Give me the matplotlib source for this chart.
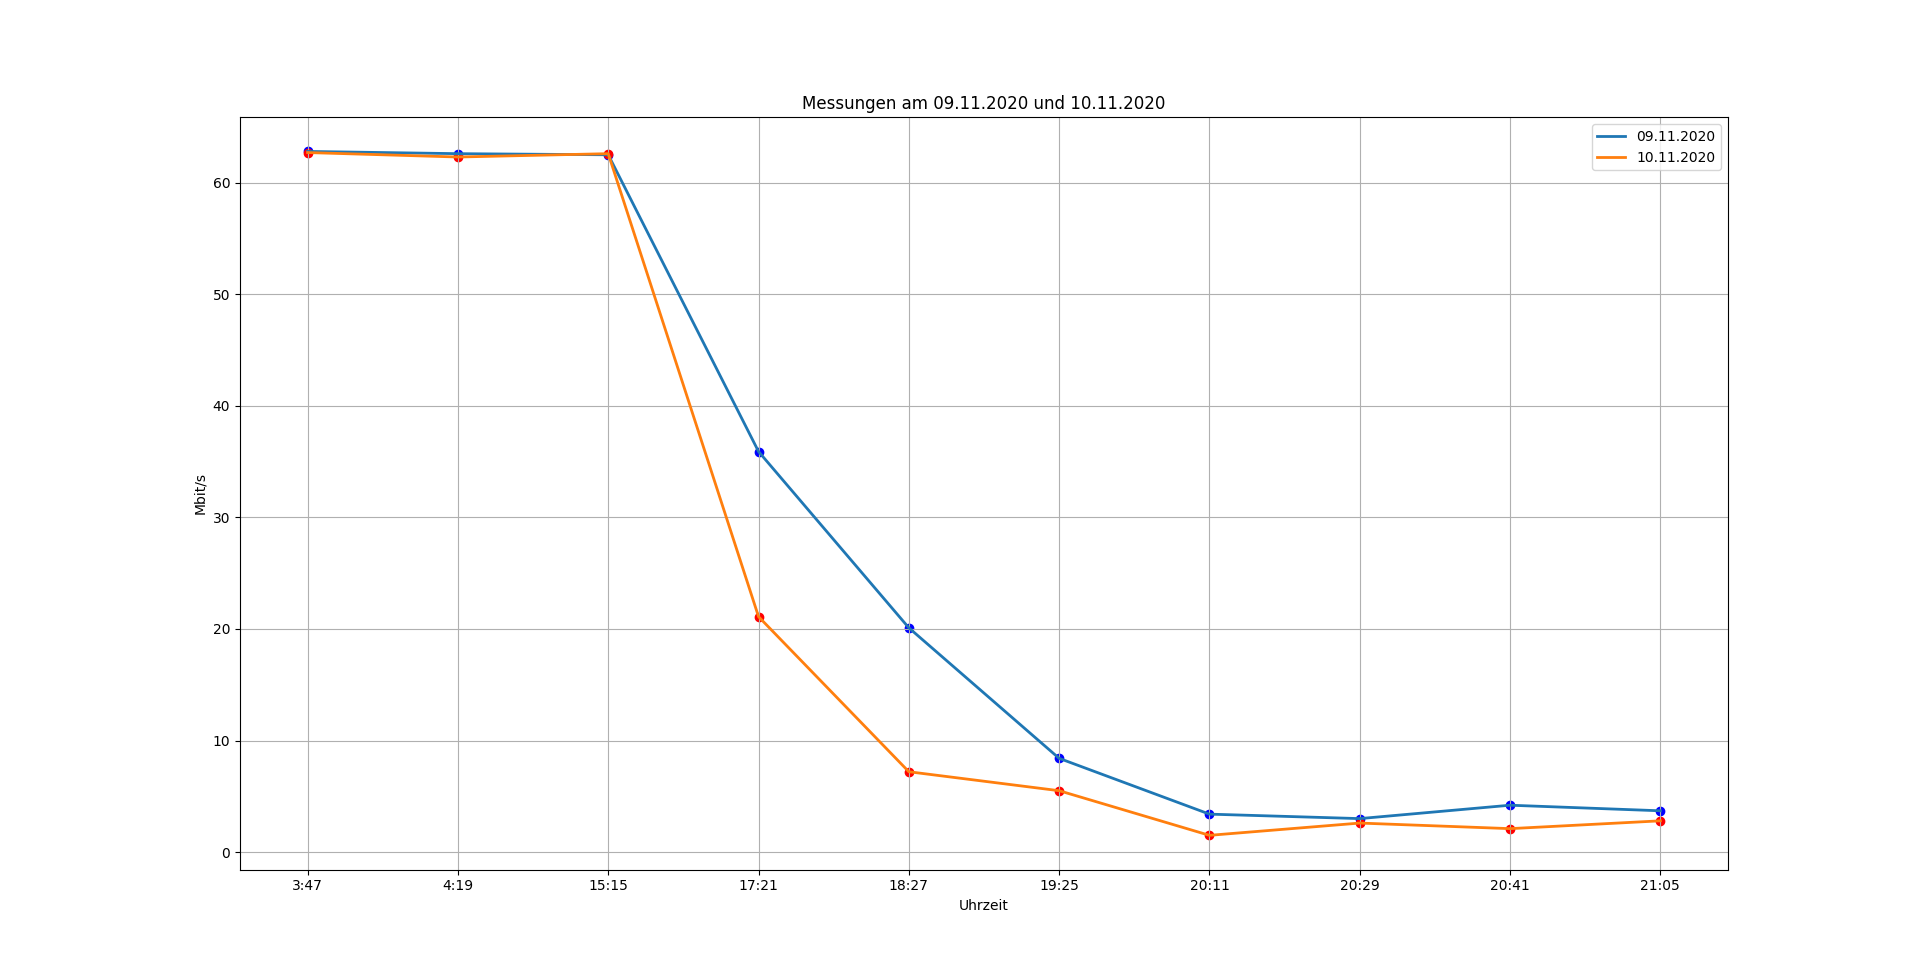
import matplotlib
matplotlib.use('Agg')
import matplotlib.pyplot as plt

# Uhrzeiten der Messungen
zeiten = ['3:47', '4:19', '15:15', '17:21', '18:27', '19:25', '20:11', '20:29', '20:41', '21:05']

# Mbit/s am 09.11.2020
tag1 = [62.8, 62.6, 62.5, 35.9, 20.1, 8.4, 3.4, 3.0, 4.2, 3.7]

# Mbit/s am 10.11.2020
tag2 = [62.7, 62.3, 62.6, 21.1, 7.2, 5.5, 1.5, 2.6, 2.1, 2.8]

plt.figure(figsize=(19.2, 9.77), dpi=100)
plt.plot(zeiten, tag1, label='09.11.2020', linewidth=2)
plt.plot(zeiten, tag2, label='10.11.2020', linewidth=2)
plt.scatter(zeiten, tag1, color='blue')
plt.scatter(zeiten, tag2, color='red')
plt.title('Messungen am 09.11.2020 und 10.11.2020')
plt.xlabel('Uhrzeit')
plt.ylabel('Mbit/s')
plt.grid(True)
plt.legend(loc='upper right')

plt.savefig('out.png', dpi=100)
